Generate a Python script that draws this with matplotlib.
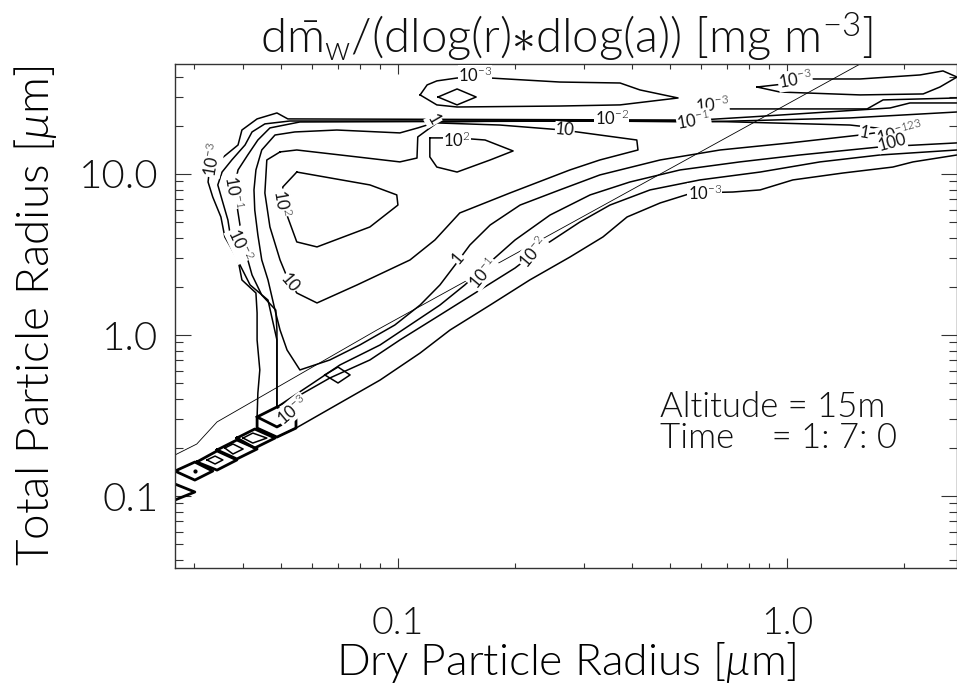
import numpy as np
import matplotlib
matplotlib.use("Agg")
import matplotlib.pyplot as plt
from matplotlib.ticker import FixedLocator, FixedFormatter, LogLocator, NullFormatter

# contour traces, log10 of radius in micrometre (dry radius, total radius)
m3_logdry = [0.437, 0.247, 0.206, -0.172, -0.267, -1.283, -1.311, -1.362, -1.401, -1.411, -1.458, -1.486, -1.488,
             -1.476, -1.455, -1.445, -1.411, -1.401, -1.365, -1.362, -1.362, -1.355, -1.360, -1.362, -1.362, -1.311,
             -1.262, -1.149, -1.046, -0.943, -0.866, -0.763, -0.661, -0.558, -0.473, -0.411, -0.326, -0.244, -0.139,
             -0.069, 0.015, 0.144, 0.272, 0.324, 0.437]
m3_logtot = [1.472, 1.460, 1.404, 1.404, 1.335, 1.342, 1.379, 1.342, 1.273, 1.180, 1.087, 0.994, 0.950,
             0.857, 0.733, 0.609, 0.466, 0.342, 0.261, 0.137, -0.031, -0.217, -0.360, -0.509, -0.578, -0.634,
             -0.578, -0.422, -0.280, -0.112, 0.031, 0.186, 0.342, 0.484, 0.609, 0.733, 0.820, 0.882, 0.888,
             0.901, 0.963, 1.006, 1.043, 1.075, 1.118]

m2_logdry = [0.437, 0.316, 0.265, -0.095, -0.267, -1.278, -1.342, -1.375, -1.393, -1.427, -1.452, -1.463, -1.452,
             -1.437, -1.427, -1.406, -1.380, -1.334, -1.311, -1.311, -1.252, -1.175, -1.072, -0.995, -0.892, -0.789,
             -0.699, -0.622, -0.532, -0.455, -0.352, -0.224, -0.069, 0.085, 0.239, 0.437]
m2_logtot = [1.441, 1.441, 1.410, 1.354, 1.329, 1.329, 1.311, 1.261, 1.180, 1.087, 1.012, 0.932, 0.839,
             0.714, 0.559, 0.435, 0.311, 0.217, -0.031, -0.447, -0.373, -0.267, -0.155, -0.031, 0.124, 0.280,
             0.416, 0.559, 0.702, 0.807, 0.901, 0.963, 1.012, 1.075, 1.118, 1.149]

m1_logdry = [0.437, 0.162, -0.224, -0.481, -1.252, -1.329, -1.360, -1.386, -1.411, -1.422, -1.414, -1.406, -1.393,
             -1.375, -1.350, -1.314, -1.311, -1.311, -1.226, -1.149, -1.046, -0.969, -0.892, -0.828, -0.763, -0.699,
             -0.609, -0.506, -0.404, -0.275, -0.121, 0.033, 0.239, 0.437]
m1_logtot = [1.385, 1.348, 1.323, 1.329, 1.323, 1.286, 1.211, 1.118, 1.025, 0.901, 0.807, 0.683, 0.528,
             0.373, 0.248, 0.155, 0.031, -0.447, -0.311, -0.186, -0.062, 0.062, 0.186, 0.311, 0.453, 0.590,
             0.745, 0.870, 0.950, 1.025, 1.075, 1.118, 1.168, 1.193]

p0_logdry = [0.278, 0.162, -0.224, -0.738, -0.900, -0.949, -0.995, -1.157, -1.265, -1.316, -1.350, -1.365, -1.370,
             -1.368, -1.360, -1.350, -1.334, -1.316, -1.303, -1.285, -1.252, -1.175, -1.098, -1.008, -0.943, -0.892,
             -0.853, -0.815, -0.763, -0.686, -0.584, -0.481, -0.326, -0.172, 0.008, 0.188, 0.278]
p0_logtot = [1.273, 1.304, 1.329, 1.329, 1.323, 1.286, 1.255, 1.273, 1.261, 1.242, 1.149, 1.025, 0.901,
             0.776, 0.621, 0.466, 0.342, 0.155, 0.031, -0.093, -0.217, -0.155, -0.062, 0.062, 0.186, 0.311,
             0.435, 0.559, 0.683, 0.807, 0.901, 0.994, 1.087, 1.149, 1.193, 1.242, 1.273]

p1_logdry = [-1.303, -1.260, -1.105, -0.995, -0.951, -0.949, -0.900, -0.738, -0.576, -0.481, -0.386, -0.383, -0.481,
             -0.558, -0.712, -0.841, -0.905, -0.969, -1.105, -1.208, -1.260, -1.285, -1.303, -1.329, -1.342, -1.337,
             -1.303]
p1_logtot = [1.137, 1.149, 1.106, 1.075, 1.099, 1.230, 1.317, 1.304, 1.273, 1.242, 1.211, 1.149, 1.087,
             1.025, 0.882, 0.758, 0.590, 0.466, 0.311, 0.199, 0.261, 0.360, 0.466, 0.671, 0.882, 1.087,
             1.137]

p2a_logdry = [-1.260, -1.072, -1.003, -1.000, -1.072, -1.208, -1.260, -1.290, -1.296, -1.260]
p2a_logtot = [1.012, 0.932, 0.870, 0.807, 0.671, 0.547, 0.578, 0.776, 0.919, 1.012]

p2b_logdry = [-0.918, -0.848, -0.776, -0.704, -0.763, -0.848, -0.900, -0.918, -0.918]
p2b_logtot = [1.224, 1.224, 1.211, 1.143, 1.087, 1.012, 1.043, 1.106, 1.224]

isl1_logdry = [-0.943, -0.925, -0.900, -0.848, -0.763, -0.584, -0.429, -0.378, -0.280, -0.429, -0.584, -0.848,
               -0.900, -0.943]
isl1_logtot = [1.491, 1.553, 1.578, 1.596, 1.596, 1.571, 1.565, 1.522, 1.472, 1.429, 1.422, 1.416,
               1.429, 1.491]
isl1d_logdry = [-0.897, -0.848, -0.799, -0.848, -0.897]
isl1d_logtot = [1.478, 1.528, 1.478, 1.429, 1.478]

isl2_logdry = [-0.077, 0.015, 0.067, 0.188, 0.342, 0.401, 0.437, 0.393, 0.350, 0.188, -0.018, -0.077]
isl2_logtot = [1.540, 1.565, 1.590, 1.590, 1.615, 1.640, 1.602, 1.540, 1.497, 1.491, 1.509, 1.540]

# small closed cells along the lower edge of the distribution
sq1_logdry = [-1.573, -1.522, -1.476, -1.522, -1.573]
sq1_logtot = [-0.845, -0.789, -0.845, -0.901, -0.845]
sq2_logdry = [-1.517, -1.465, -1.414, -1.465, -1.517]
sq2_logtot = [-0.789, -0.720, -0.776, -0.839, -0.789]
sq3_logdry = [-1.465, -1.414, -1.362, -1.414, -1.465]
sq3_logtot = [-0.714, -0.652, -0.708, -0.770, -0.714]
sq4_logdry = [-1.414, -1.368, -1.316, -1.368, -1.414]
sq4_logtot = [-0.640, -0.584, -0.640, -0.702, -0.640]
box_logdry = [-1.362, -1.311, -1.262, -1.262, -1.311, -1.362, -1.362, -1.311, -1.262]
box_logtot = [-0.509, -0.447, -0.509, -0.578, -0.634, -0.578, -0.509, -0.571, -0.509]
d2_logdry = [-1.491, -1.470, -1.450, -1.470, -1.491]
d2_logtot = [-0.776, -0.752, -0.776, -0.801, -0.776]
d3_logdry = [-1.445, -1.424, -1.398, -1.424, -1.445]
d3_logtot = [-0.702, -0.677, -0.708, -0.739, -0.702]
d4_logdry = [-1.398, -1.373, -1.337, -1.373, -1.398]
d4_logtot = [-0.640, -0.609, -0.640, -0.671, -0.640]
d5_logdry = [-1.188, -1.154, -1.123, -1.154, -1.188]
d5_logtot = [-0.248, -0.199, -0.248, -0.298, -0.248]
tri_logdry = [-1.586, -1.522, -1.586]
tri_logtot = [-0.913, -0.975, -1.037]

# thin reference curve
ref_logdry = [-1.573, -1.517, -1.465, -1.054, 0.188, 0.239]
ref_logtot = [-0.745, -0.677, -0.540, 0.031, 1.683, 1.752]

# contour labels: text, log dry, log total, angle
lab_text = ["10$^{-3}$", "10$^{-3}$", "10$^{-2}$", "10$^{-3}$", "10$^{-1}$", "1", "10$^{2}$", "10",
            "10$^{-3}$", "10$^{-1}$", "10$^{-2}$", "10$^{2}$", "10", "1", "10$^{-1}$", "10$^{-2}$",
            "10$^{-3}$", "1", "10$^{-123}$", "100", "10$^{-3}$"]
lab_logdry = [-0.802, 0.021, -0.450, -0.193, -0.240, -0.910, -0.848, -0.571,
              -1.476, -1.422, -1.406, -1.298, -1.278, -0.846, -0.781, -0.653,
              -0.211, 0.198, 0.290, 0.270, -1.272]
lab_logtot = [1.615, 1.584, 1.348, 1.430, 1.335, 1.335, 1.211, 1.273,
              1.087, 0.888, 0.559, 0.820, 0.323, 0.478, 0.385, 0.516,
              0.882, 1.255, 1.260, 1.195, -0.466]
lab_angle = [0, 10, 0, 5, 10, -60, 0, -5,
             80, -80, -65, -80, -50, 50, 50, 50,
             0, -10, 15, 15, 40]

plt.rcParams['font.family'] = ['Lato', 'DejaVu Sans']
plt.rcParams['font.weight'] = 300
plt.rcParams['axes.titleweight'] = 300
plt.rcParams['axes.labelweight'] = 300
plt.rcParams['mathtext.fontset'] = 'custom'
plt.rcParams['mathtext.rm'] = 'Lato:weight=300'
plt.rcParams['mathtext.it'] = 'Lato:italic:weight=300'
plt.rcParams['text.color'] = '#111111'

fig = plt.figure(figsize=(9.57, 6.86), dpi=100)
ax = fig.add_axes([175 / 957, 1 - 568 / 686, 782 / 957, 504 / 686])
ax.set_xscale('log')
ax.set_yscale('log')
ax.set_xlim(10 ** -1.573, 10 ** 0.437)
ax.set_ylim(10 ** -1.447, 10 ** 1.683)

traces = [(m3_logdry, m3_logtot), (m2_logdry, m2_logtot), (m1_logdry, m1_logtot),
          (p0_logdry, p0_logtot), (p1_logdry, p1_logtot), (p2a_logdry, p2a_logtot),
          (p2b_logdry, p2b_logtot), (isl1_logdry, isl1_logtot), (isl1d_logdry, isl1d_logtot),
          (isl2_logdry, isl2_logtot), (d2_logdry, d2_logtot), (d3_logdry, d3_logtot),
          (d4_logdry, d4_logtot), (d5_logdry, d5_logtot)]
for xs, ys in traces:
    ax.plot(10 ** np.array(xs), 10 ** np.array(ys), color='black', lw=1.1)

# the bin cells on the lower edge are drawn heavier (several levels on top of each other)
for xs, ys in [(sq1_logdry, sq1_logtot), (sq2_logdry, sq2_logtot), (sq3_logdry, sq3_logtot),
               (sq4_logdry, sq4_logtot), (box_logdry, box_logtot), (tri_logdry, tri_logtot)]:
    ax.plot(10 ** np.array(xs), 10 ** np.array(ys), color='black', lw=2.0)
ax.plot(10 ** sq1_logdry[1], 10 ** sq1_logtot[0], marker='o', ms=2, color='black')

ax.plot(10 ** np.array(ref_logdry), 10 ** np.array(ref_logtot), color='black', lw=0.6)

for t, x, y, a in zip(lab_text, lab_logdry, lab_logtot, lab_angle):
    ax.text(10 ** x, 10 ** y, t, fontsize=12, fontweight='normal', rotation=a, ha='center', va='center',
            rotation_mode='anchor', bbox=dict(fc='white', ec='none', pad=0.2))

ax.text(0.62, 0.319, "Altitude = 15m", transform=ax.transAxes, fontsize=25, va='center')
ax.text(0.62, 0.258, "Time    = 1: 7: 0", transform=ax.transAxes, fontsize=25, va='center')

for s in ax.spines.values():
    s.set_linewidth(1.0)
    s.set_color('#333333')

ax.xaxis.set_major_locator(FixedLocator([0.1, 1.0]))
ax.xaxis.set_major_formatter(FixedFormatter(["0.1", "1.0"]))
ax.yaxis.set_major_locator(FixedLocator([0.1, 1.0, 10.0]))
ax.yaxis.set_major_formatter(FixedFormatter(["0.1", "1.0", "10.0"]))
for axis in (ax.xaxis, ax.yaxis):
    axis.set_minor_locator(LogLocator(base=10, subs=np.arange(2, 10)))
    axis.set_minor_formatter(NullFormatter())
ax.tick_params(which='both', direction='in', top=True, right=True, color='#333333', width=0.8,
               labelcolor='#111111')
ax.tick_params(axis='x', which='major', length=7.2, labelsize=27, pad=28)
ax.tick_params(axis='x', which='minor', length=3.6)
ax.tick_params(axis='y', which='major', length=11.2, labelsize=29, pad=12)
ax.tick_params(axis='y', which='minor', length=5.6)

ax.set_xlabel("Dry Particle Radius [$\\mathit{\\mu}$m]", fontsize=32, va='baseline')
ax.xaxis.set_label_coords(0.5, -0.2123)
ax.set_ylabel("Total Particle Radius [$\\mathit{\\mu}$m]", fontsize=33, va='center')
ax.yaxis.set_label_coords(-0.179, 0.5)
ax.set_title("d$\\bar{\\mathrm{m}}_\\mathrm{w}$/(dlog(r)$\\ast$dlog(a)) [mg m$^{-3}$]", fontsize=34, pad=8)

fig.savefig("out.png", dpi=100)
